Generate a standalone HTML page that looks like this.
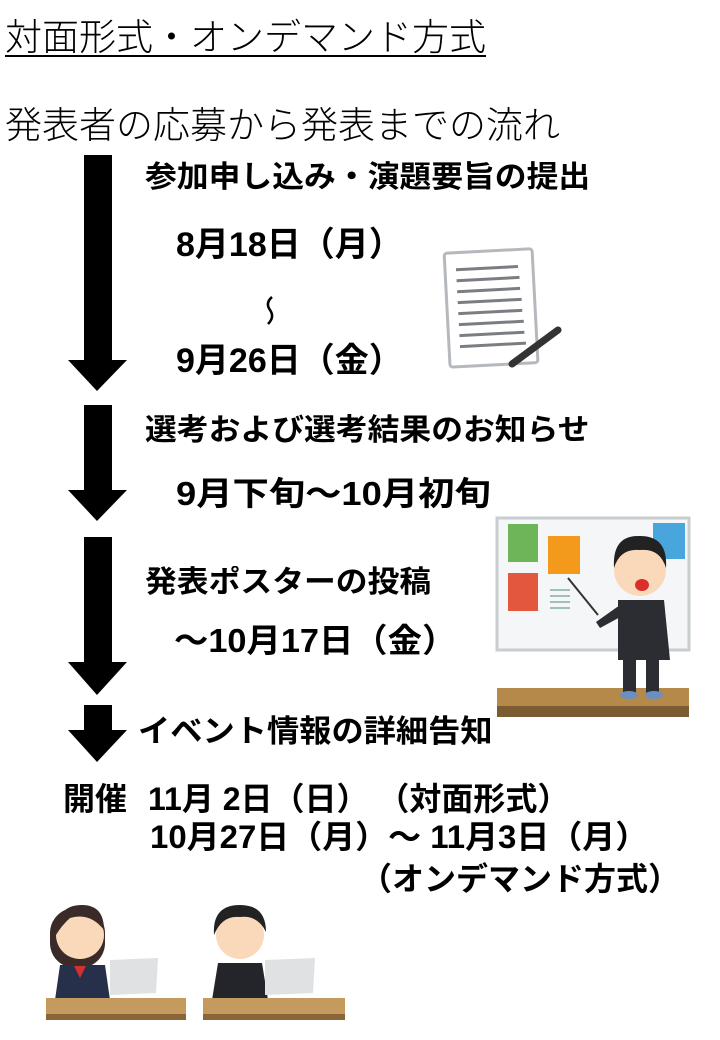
<!DOCTYPE html>
<html><head><meta charset="utf-8"><style>
body{margin:0;width:720px;height:1040px;background:#fff;position:relative;overflow:hidden;font-family:"Liberation Sans","Noto Sans CJK JP",sans-serif;}
.t{position:absolute;white-space:nowrap;color:#000;line-height:1;transform-origin:0 0;}
.b{font-weight:bold;}
</style></head><body>
<div class="t" style="left:5px;top:19px;font-size:37px;font-weight:300;text-decoration:underline;text-decoration-thickness:2px;text-underline-offset:5px;">対面形式・オンデマンド方式</div>
<div class="t" style="left:5px;top:107px;font-size:37px;font-weight:300;">発表者の応募から発表までの流れ</div>

<svg width="720" height="1040" style="position:absolute;left:0;top:0">
<g fill="#000">
<rect x="84" y="155" width="28" height="206"/><polygon points="68,360 127,360 97,391"/>
<rect x="84" y="405" width="28" height="86"/><polygon points="68,490 127,490 97,521"/>
<rect x="84" y="537" width="28" height="126"/><polygon points="68,662 127,662 97,695"/>
<rect x="84" y="705" width="28" height="26"/><polygon points="68,730 127,730 97,762"/>
</g>
<path d="M272 297 Q265 303 270 310 Q275 317 268 324" fill="none" stroke="#000" stroke-width="2.5"/>
<!-- document -->
<g transform="rotate(-3 490 307)">
<rect x="447" y="251" width="88" height="114" rx="3" fill="#fff" stroke="#b5b9bd" stroke-width="3"/>
<g stroke="#7a7e82" stroke-width="3">
<line x1="458" y1="268" x2="520" y2="268"/><line x1="458" y1="279" x2="521" y2="279"/>
<line x1="458" y1="290" x2="521" y2="290"/><line x1="458" y1="301" x2="522" y2="301"/>
<line x1="458" y1="312" x2="522" y2="312"/><line x1="458" y1="323" x2="523" y2="323"/>
<line x1="458" y1="334" x2="523" y2="334"/><line x1="458" y1="345" x2="524" y2="345"/>
</g></g>
<line x1="512" y1="364" x2="558" y2="330" stroke="#333" stroke-width="7" stroke-linecap="round"/>
<!-- poster board -->
<rect x="497" y="518" width="192" height="132" fill="#f4f6f7" stroke="#c8cdd0" stroke-width="3"/>
<rect x="508" y="524" width="30" height="38" fill="#6db558"/>
<rect x="548" y="536" width="32" height="38" fill="#f39a1d"/>
<rect x="508" y="573" width="30" height="38" fill="#e2573d"/>
<rect x="653" y="523" width="32" height="36" fill="#48a6dc"/>
<g stroke="#8aa" stroke-width="1.5"><line x1="550" y1="590" x2="570" y2="590"/><line x1="550" y1="596" x2="570" y2="596"/><line x1="550" y1="602" x2="570" y2="602"/><line x1="550" y1="608" x2="570" y2="608"/></g>
<line x1="568" y1="578" x2="598" y2="615" stroke="#333" stroke-width="2"/>
<rect x="497" y="688" width="192" height="22" fill="#b4894a"/><rect x="497" y="706" width="192" height="11" fill="#7a5c30"/>
<!-- presenter -->
<circle cx="640" cy="570" r="26" fill="#f9d9b9"/>
<path d="M614 568 Q612 535 640 536 Q668 536 666 568 Q660 548 640 550 Q620 548 614 568Z" fill="#222"/>
<ellipse cx="642" cy="585" rx="7" ry="6" fill="#d9302c"/>
<path d="M618 600 L664 600 L670 660 L618 660Z" fill="#2b2d33"/>
<path d="M620 605 L596 622 L600 628 L624 615Z" fill="#2b2d33"/>
<rect x="623" y="655" width="13" height="38" fill="#2b2d33"/><rect x="646" y="655" width="13" height="38" fill="#2b2d33"/>
<ellipse cx="629" cy="695" rx="9" ry="4" fill="#6b8fc0"/><ellipse cx="654" cy="695" rx="9" ry="4" fill="#6b8fc0"/>
<!-- students -->
<g>
<rect x="50" y="908" width="55" height="60" rx="25" fill="#3a2a28"/>
<circle cx="80" cy="935" r="24" fill="#f9d9b9"/>
<path d="M56 935 Q56 905 82 905 Q104 905 104 930 Q90 912 70 918 Q62 925 56 935Z" fill="#3a2a28"/>
<path d="M60 965 L105 965 L110 1000 L55 1000Z" fill="#26304a"/>
<polygon points="74,966 86,966 80,978" fill="#d03030"/>
<polygon points="110,960 158,958 156,993 110,995" fill="#dfe1e3"/>
<rect x="46" y="998" width="140" height="18" fill="#c59a5e"/><rect x="46" y="1014" width="140" height="6" fill="#8a6538"/>
</g>
<g>
<circle cx="240" cy="935" r="24" fill="#f9d9b9"/>
<path d="M214 935 Q212 905 240 905 Q266 905 266 932 Q258 915 240 917 Q222 915 214 935Z" fill="#222"/>
<path d="M218 963 L262 963 L268 1000 L212 1000Z" fill="#24252a"/>
<polygon points="265,960 315,958 313,993 265,995" fill="#dfe1e3"/>
<rect x="203" y="998" width="142" height="18" fill="#c59a5e"/><rect x="203" y="1014" width="142" height="6" fill="#8a6538"/>
</g>
</svg>

<div class="t b" style="left:145px;top:163px;font-size:30px;transform:scaleX(1.06);">参加申し込み・演題要旨の提出</div>
<div class="t b" style="left:176px;top:228px;font-size:34px;">8月18日（月）</div>
<div class="t b" style="left:176px;top:344px;font-size:34px;">9月26日（金）</div>
<div class="t b" style="left:145px;top:416px;font-size:30px;transform:scaleX(1.06);">選考および選考結果のお知らせ</div>
<div class="t b" style="left:176px;top:477px;font-size:33px;transform:scaleX(1.1);">9月下旬～10月初旬</div>
<div class="t b" style="left:145px;top:568px;font-size:30px;transform:scaleX(1.06);">発表ポスターの投稿</div>
<div class="t b" style="left:174px;top:624px;font-size:33px;transform:scaleX(1.04);">～10月17日（金）</div>
<div class="t b" style="left:138px;top:716px;font-size:31px;transform:scaleX(1.04);">イベント情報の詳細告知</div>
<div class="t b" style="left:63px;top:783px;font-size:32px;">開催</div>
<div class="t b" style="left:148px;top:783px;font-size:32px;">11月 2日（日）&nbsp;（対面形式）</div>
<div class="t b" style="left:150px;top:821px;font-size:32px;transform:scaleX(1.03);">10月27日（月）～ 11月3日（月）</div>
<div class="t b" style="left:360px;top:863px;font-size:32px;">（オンデマンド方式）</div>
</body></html>
